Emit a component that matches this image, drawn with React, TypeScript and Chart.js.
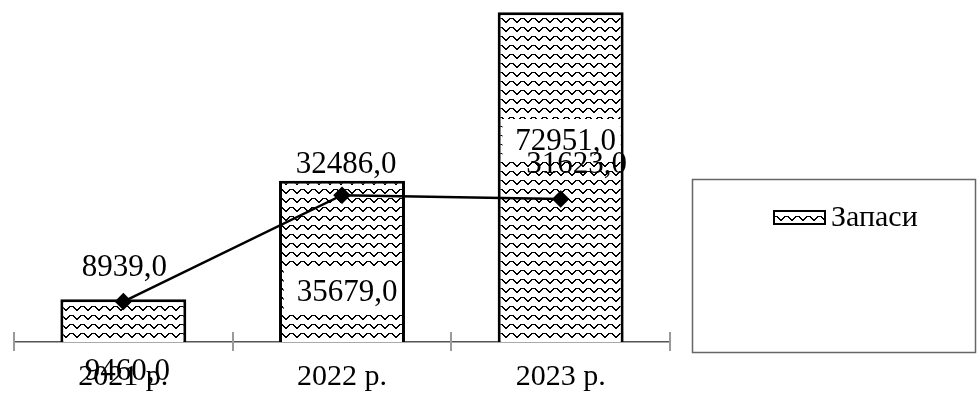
import React, { useEffect, useRef } from 'react';
import { Chart, registerables } from 'chart.js';

Chart.register(...registerables);

// ---- data ----
const categories = ['2021 р.', '2022 р.', '2023 р.'];
const stockValues = [9460, 35679, 72951];
const lineValues = [8939, 32486, 31623];
const seriesName = 'Запаси';

const FONT = '"Liberation Serif", "Times New Roman", serif';
const fmt = (v: number) => v.toFixed(1).replace('.', ',');

// label placement styles (offsets in px)
const barLabelStyle = [
  { dx: 4, dy: 30, bg: false },
  { dx: 5, dy: -49, bg: true },
  { dx: 5, dy: -200, bg: true },
];
const lineLabelStyle = [
  { dx: 1, dy: -34 },
  { dx: 4, dy: -30 },
  { dx: 16, dy: -34 },
];

const WAVE = [
  '...XXXXX...',
  '..XX...XX..',
  '.XX.....XX.',
  'XX.......XX',
  'X.........X',
  '...........',
  '...........',
  '...........',
  '...........',
];

function makePattern(ctx: CanvasRenderingContext2D): CanvasPattern | string {
  const tile = document.createElement('canvas');
  tile.width = WAVE[0].length;
  tile.height = WAVE.length;
  const t = tile.getContext('2d');
  if (!t) return '#888';
  t.fillStyle = '#fff';
  t.fillRect(0, 0, tile.width, tile.height);
  t.fillStyle = '#000';
  WAVE.forEach((row, y) => {
    for (let x = 0; x < row.length; x++) if (row[x] === 'X') t.fillRect(x, y, 1, 1);
  });
  return ctx.createPattern(tile, 'repeat') || '#888';
}

const labelsPlugin = {
  id: 'customLabels',
  afterDatasetsDraw(chart: any) {
    const ctx = chart.ctx as CanvasRenderingContext2D;
    const yScale = chart.scales.y;
    const y0 = yScale.getPixelForValue(0);
    ctx.save();
    ctx.font = `31px ${FONT}`;
    ctx.textAlign = 'center';
    ctx.textBaseline = 'middle';
    const barMeta = chart.getDatasetMeta(0);
    barMeta.data.forEach((el: any, i: number) => {
      const st = barLabelStyle[i];
      const text = fmt(chart.data.datasets[0].data[i]);
      const x = el.x + st.dx;
      const y = y0 + st.dy;
      if (st.bg) {
        const w = ctx.measureText(text).width + 21;
        const left = x - 2.5 - w / 2;
        const right = Math.min(left + w, el.x + el.width / 2 - 3);
        ctx.fillStyle = '#fff';
        ctx.fillRect(left, y - 23, right - left, 41);
      }
      ctx.fillStyle = '#000';
      ctx.fillText(text, x, y);
    });
    const lineMeta = chart.getDatasetMeta(1);
    lineMeta.data.forEach((el: any, i: number) => {
      const st = lineLabelStyle[i];
      const text = fmt(chart.data.datasets[1].data[i]);
      ctx.fillStyle = '#000';
      ctx.fillText(text, el.x + st.dx, el.y + st.dy);
    });
    ctx.restore();
  },
  afterDraw(chart: any) {
    const ctx = chart.ctx as CanvasRenderingContext2D;
    const xScale = chart.scales.x;
    const y0 = chart.scales.y.getPixelForValue(0);
    ctx.save();
    // tick marks crossing the axis at category boundaries
    ctx.strokeStyle = '#9a9a9a';
    ctx.lineWidth = 2;
    for (let i = 0; i <= categories.length; i++) {
      const px = Math.round(xScale.getPixelForValue(i - 0.5));
      ctx.beginPath();
      ctx.moveTo(px, y0 - 10);
      ctx.lineTo(px, y0 + 9);
      ctx.stroke();
    }
    // legend box
    ctx.strokeStyle = '#666';
    ctx.lineWidth = 1.5;
    ctx.strokeRect(692.5, 179.5, 283, 173);
    const pattern = chart.data.datasets[0].backgroundColor;
    ctx.fillStyle = pattern;
    ctx.fillRect(773, 210, 53, 15);
    ctx.strokeStyle = '#000';
    ctx.lineWidth = 2;
    ctx.strokeRect(774, 211, 51, 13);
    ctx.fillStyle = '#000';
    ctx.font = `30px ${FONT}`;
    ctx.textAlign = 'left';
    ctx.textBaseline = 'middle';
    ctx.fillText(chart.data.datasets[0].label, 831, 218);
    ctx.restore();
  },
};

export default function App() {
  const ref = useRef<HTMLCanvasElement | null>(null);
  useEffect(() => {
    const canvas = ref.current;
    if (!canvas) return;
    const ctx = canvas.getContext('2d');
    if (!ctx) return;
    const pattern = makePattern(ctx);
    const chart = new Chart(ctx, {
      type: 'bar',
      data: {
        labels: categories,
        datasets: [
          {
            type: 'bar',
            label: seriesName,
            data: stockValues,
            backgroundColor: pattern as any,
            borderColor: '#000',
            borderWidth: 3,
            barPercentage: 0.576,
            categoryPercentage: 1,
            order: 2,
          },
          {
            type: 'line',
            label: 'line',
            data: lineValues,
            borderColor: '#000',
            borderWidth: 2.5,
            pointStyle: 'rectRot',
            pointRadius: 7,
            pointBackgroundColor: '#000',
            pointBorderColor: '#000',
            tension: 0,
            order: 1,
          } as any,
        ],
      },
      options: {
        responsive: false,
        animation: false,
        layout: { autoPadding: false, padding: { left: 14, right: 309, top: 3, bottom: 4 } },
        plugins: { legend: { display: false }, tooltip: { enabled: false } },
        scales: {
          x: {
            offset: true,
            grid: { display: false, drawTicks: false },
            border: { display: true, color: '#555', width: 1.5 },
            ticks: {
              color: '#000',
              padding: 20,
              font: { family: FONT, size: 30, lineHeight: 1 },
            },
            afterFit: (scale: any) => {
              scale.height = 50;
            },
          },
          y: { display: false, min: 0, max: 75000 },
        },
      },
      plugins: [labelsPlugin],
    });
    return () => chart.destroy();
  }, []);
  return (
    <div style={{ position: 'fixed', left: 0, top: 0, width: 979, height: 396, background: '#fff' }}>
      <canvas ref={ref} width={979} height={396} style={{ display: 'block' }} />
    </div>
  );
}
